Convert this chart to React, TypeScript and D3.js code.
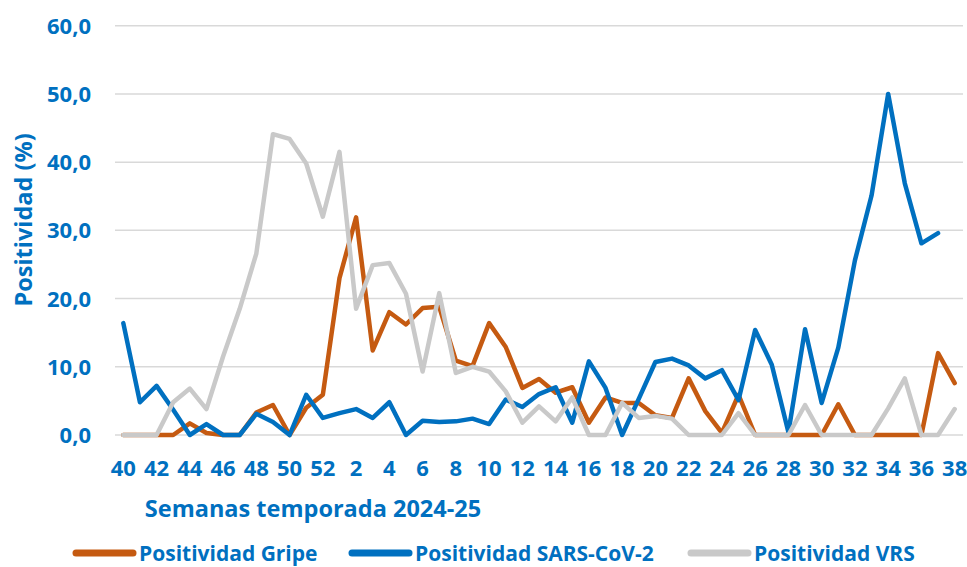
import React from 'react';
import * as d3 from 'd3';

// semanas epidemiológicas temporada 2024-25
const weeks = [40, 41, 42, 43, 44, 45, 46, 47, 48, 49, 50, 51, 52, 1, 2, 3, 4, 5, 6, 7, 8, 9, 10, 11, 12, 13, 14, 15, 16, 17, 18, 19, 20, 21, 22, 23, 24, 25, 26, 27, 28, 29, 30, 31, 32, 33, 34, 35, 36, 37, 38];

const gripe = [0, 0, 0, 0, 1.7, 0.3, 0, 0, 3.3, 4.4, 0, 4.0, 5.9, 23.0, 31.9, 12.4, 18.0, 16.2, 18.6, 18.8, 10.9, 10.1, 16.4, 12.9, 6.9, 8.2, 6.2, 7.0, 1.8, 5.5, 4.7, 4.7, 2.9, 2.5, 8.3, 3.5, 0.3, 5.9, 0, 0, 0, 0, 0, 4.5, 0, 0, 0, 0, 0, 12.0, 7.6];

const sarsCov2 = [16.4, 4.8, 7.2, 3.7, 0, 1.6, 0, 0, 3.1, 1.9, 0, 5.9, 2.5, 3.2, 3.8, 2.5, 4.8, 0, 2.1, 1.9, 2.0, 2.4, 1.6, 5.2, 4.1, 6.0, 7.0, 1.8, 10.8, 6.9, 0, 5.3, 10.7, 11.2, 10.2, 8.3, 9.5, 5.1, 15.4, 10.3, 0.4, 15.5, 4.7, 12.8, 25.6, 35.1, 50.0, 36.9, 28.1, 29.6];

const vrs = [0, 0, 0, 4.8, 6.8, 3.8, 11.5, 18.5, 26.6, 44.1, 43.4, 39.8, 32.0, 41.5, 18.5, 24.9, 25.2, 20.7, 9.3, 20.8, 9.1, 10.0, 9.3, 6.4, 1.8, 4.2, 2.0, 5.5, 0, 0, 4.7, 2.5, 2.8, 2.4, 0, 0, 0, 3.2, 0, 0, 0, 4.4, 0, 0, 0, 0, 3.9, 8.3, 0, 0, 3.8];

const yTicks = [0, 10, 20, 30, 40, 50, 60];

const series = [
  { name: 'Positividad Gripe', values: gripe, color: '#C55A11' },
  { name: 'Positividad SARS-CoV-2', values: sarsCov2, color: '#0070C0' },
  { name: 'Positividad VRS', values: vrs, color: '#C9C9C9' },
];

const W = 967;
const H = 567;
const font = "'Open Sans', 'DejaVu Sans', sans-serif";
const blue = '#0070C0';

export default function App() {
  const x = d3.scalePoint<number>().domain(d3.range(weeks.length)).range([115, 963]).padding(0.5);
  const y = d3.scaleLinear().domain([0, 60]).range([435, 25.7]);
  const line = d3
    .line<number>()
    .x((d, i) => x(i) as number)
    .y((d) => y(d));

  const fmt = (v: number) => v.toFixed(1).replace('.', ',');

  // posiciones de la leyenda
  const legendX = [76, 352, 691];

  return (
    <svg width={W} height={H} style={{ position: 'absolute', left: 0, top: 0 }} fontFamily={font}>
      <rect width={W} height={H} fill="#fff" />
      {yTicks.map((t) => (
        <g key={t}>
          <line x1={115} x2={963} y1={y(t)} y2={y(t)} stroke="#D9D9D9" strokeWidth={1.5} />
          <text x={91} y={y(t) + 8} textAnchor="end" fontSize={22} fontWeight="bold" fill={blue}>
            {fmt(t)}
          </text>
        </g>
      ))}
      {weeks.map((w, i) =>
        i % 2 === 0 ? (
          <text key={i} x={x(i)} y={476} textAnchor="middle" fontSize={22} fontWeight="bold" fill={blue}>
            {w}
          </text>
        ) : null
      )}
      {series.map((s) => (
        <path
          key={s.name}
          d={line(s.values) || ''}
          fill="none"
          stroke={s.color}
          strokeWidth={4.5}
          strokeLinejoin="round"
          strokeLinecap="round"
        />
      ))}
      <text x={313} y={517} textAnchor="middle" fontSize={23.5} fontWeight="bold" fill={blue}>
        Semanas temporada 2024-25
      </text>
      <text transform="translate(32,220) rotate(-90)" textAnchor="middle" fontSize={23.5} fontWeight="bold" fill={blue}>
        Positividad (%)
      </text>
      {series.map((s, i) => (
        <g key={s.name}>
          <line
            x1={legendX[i]}
            x2={legendX[i] + 57}
            y1={553}
            y2={553}
            stroke={s.color}
            strokeWidth={7}
            strokeLinecap="round"
          />
          <text x={legendX[i] + 63} y={561} fontSize={21} fontWeight="bold" fill={blue}>
            {s.name}
          </text>
        </g>
      ))}
    </svg>
  );
}
